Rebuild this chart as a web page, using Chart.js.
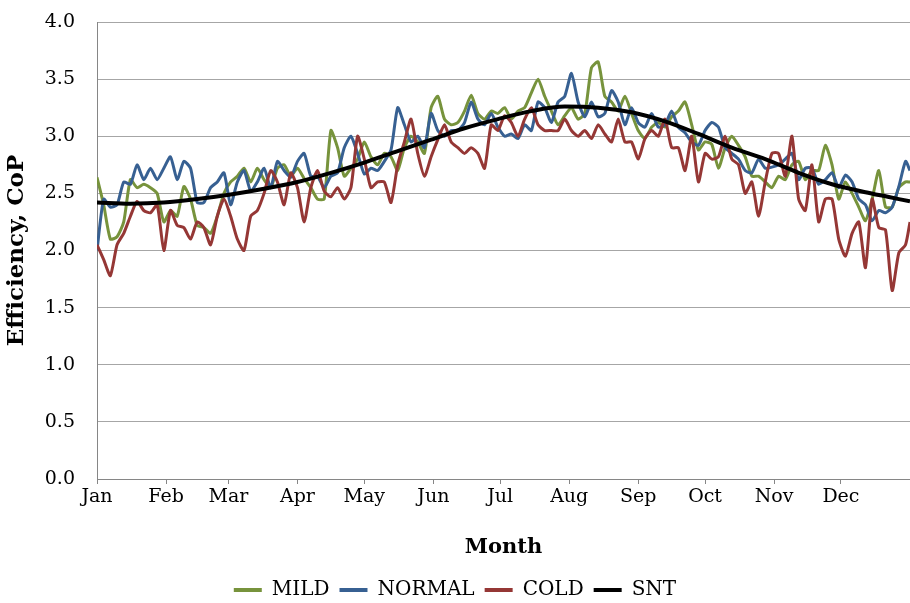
<!DOCTYPE html>
<html>
<head>
<meta charset="utf-8">
<script src="https://cdn.jsdelivr.net/npm/chart.js@4.4.1/dist/chart.umd.min.js"></script>
<style>
  html, body { margin: 0; padding: 0; background: #fff; }
  #wrap { width: 910px; height: 603px; }
</style>
</head>
<body>
<div id="wrap"><canvas id="chart"></canvas></div>
<script>
// day of year for each sample (read every ~3 days off the picture)
const days = [0,3,6,9,12,15,18,21,24,27,30,33,36,39,42,45,48,51,54,57,60,63,66,69,72,75,78,81,84,87,90,93,96,99,
  102,105,108,111,114,117,120,123,126,129,132,135,138,141,144,147,150,153,156,159,162,165,168,171,174,177,180,183,186,189,192,195,198,
  201,204,207,210,213,216,219,222,225,228,231,234,237,240,243,246,249,252,255,258,261,264,267,270,273,276,279,282,285,288,291,294,297,
  300,303,306,309,312,315,318,321,324,327,330,333,336,339,342,345,348,351,354,357,360,363,365];

const mild = [2.64,2.4,2.1,2.12,2.25,2.62,2.55,2.58,2.55,2.5,2.25,2.35,2.3,2.56,2.45,2.22,2.2,2.15,2.3,2.5,2.6,2.65,2.72,2.6,2.72,2.62,2.55,2.72,2.75,2.65,2.72,2.63,2.55,2.45,
  2.45,3.05,2.9,2.65,2.72,2.8,2.95,2.82,2.75,2.85,2.82,2.7,2.9,3.0,2.95,2.85,3.25,3.35,3.15,3.1,3.12,3.22,3.36,3.2,3.15,3.22,3.2,3.25,3.15,3.22,3.25,3.38,3.5,
  3.35,3.22,3.1,3.18,3.25,3.15,3.2,3.6,3.65,3.35,3.3,3.22,3.35,3.2,3.05,2.98,3.08,3.12,3.08,3.17,3.22,3.3,3.1,2.88,2.95,2.93,2.72,2.9,3.0,2.92,2.82,2.65,2.65,
  2.6,2.55,2.65,2.62,2.75,2.78,2.62,2.7,2.7,2.92,2.75,2.45,2.6,2.5,2.38,2.26,2.45,2.7,2.38,2.38,2.55,2.6,2.6];

const normal = [2.0,2.45,2.38,2.4,2.6,2.58,2.75,2.62,2.72,2.62,2.72,2.82,2.62,2.78,2.72,2.42,2.42,2.55,2.6,2.68,2.4,2.6,2.7,2.52,2.6,2.72,2.55,2.78,2.7,2.64,2.78,2.85,2.65,2.65,
  2.55,2.65,2.68,2.9,3.0,2.85,2.67,2.72,2.7,2.78,2.88,3.25,3.1,2.95,3.0,2.9,3.2,3.05,3.0,3.05,3.05,3.12,3.3,3.15,3.1,3.2,3.08,3.0,3.02,2.98,3.1,3.05,3.3,
  3.25,3.12,3.3,3.35,3.55,3.3,3.17,3.3,3.17,3.2,3.4,3.3,3.1,3.25,3.12,3.08,3.2,3.08,3.1,3.22,3.08,3.03,2.95,2.92,3.05,3.12,3.08,2.9,2.85,2.8,2.7,2.68,2.8,
  2.72,2.73,2.75,2.8,2.85,2.62,2.72,2.72,2.58,2.62,2.68,2.55,2.66,2.6,2.45,2.4,2.26,2.35,2.33,2.38,2.56,2.78,2.7];

const cold = [2.05,1.92,1.78,2.05,2.15,2.3,2.43,2.35,2.33,2.4,2.0,2.35,2.22,2.2,2.1,2.25,2.2,2.05,2.3,2.45,2.3,2.1,2.0,2.3,2.35,2.5,2.7,2.6,2.4,2.68,2.55,2.25,2.55,2.7,
  2.52,2.47,2.55,2.45,2.55,3.0,2.8,2.55,2.6,2.6,2.42,2.75,2.95,3.15,2.85,2.65,2.82,2.97,3.1,2.95,2.9,2.85,2.9,2.85,2.72,3.1,3.05,3.18,3.12,3.0,3.15,3.25,3.1,
  3.05,3.05,3.05,3.15,3.05,3.0,3.05,2.98,3.1,3.02,2.95,3.15,2.95,2.95,2.8,2.98,3.05,3.0,3.15,2.9,2.9,2.7,3.0,2.6,2.85,2.8,2.82,3.0,2.8,2.75,2.5,2.6,2.3,
  2.6,2.85,2.85,2.65,3.0,2.45,2.35,2.75,2.25,2.45,2.45,2.1,1.95,2.15,2.25,1.85,2.45,2.2,2.18,1.65,1.98,2.05,2.25];

// smooth SNT curve
const sntDays = [0,15,30,45,60,75,90,105,120,135,150,165,180,195,210,225,240,255,270,285,300,315,330,345,355,365];
const snt = [2.42,2.41,2.42,2.45,2.49,2.54,2.6,2.68,2.77,2.87,2.97,3.07,3.15,3.22,3.26,3.25,3.21,3.13,3.02,2.9,2.8,2.68,2.58,2.51,2.47,2.43];

const monthStarts = [0,31,59,90,120,151,181,212,243,273,304,334];
const monthNames = ['Jan','Feb','Mar','Apr','May','Jun','Jul','Aug','Sep','Oct','Nov','Dec'];

const FONT = 'DejaVu Serif';

function pts(xs, ys) {
  return ys.map((v, i) => ({ x: xs[i], y: v }));
}

new Chart(document.getElementById('chart'), {
  type: 'line',
  data: {
    datasets: [
      { label: 'MILD', data: pts(days, mild), borderColor: '#77933C', borderWidth: 3, order: 3 },
      { label: 'NORMAL', data: pts(days, normal), borderColor: '#376092', borderWidth: 3, order: 2 },
      { label: 'COLD', data: pts(days, cold), borderColor: '#953735', borderWidth: 3, order: 1 },
      { label: 'SNT', data: pts(sntDays, snt), borderColor: '#000000', borderWidth: 4, order: 0, cubicInterpolationMode: 'monotone' }
    ]
  },
  options: {
    responsive: true,
    maintainAspectRatio: false,
    animation: false,
    layout: { padding: { left: 0, right: 0, top: 22, bottom: -7 } },
    elements: {
      point: { radius: 0 },
      line: { tension: 0.2, fill: false }
    },
    plugins: {
      tooltip: { enabled: false },
      legend: {
        position: 'bottom',
        labels: {
          font: { family: FONT, size: 20 },
          color: '#000',
          boxWidth: 28,
          boxHeight: 4,
          padding: 10,
          sort: (a, b) => a.datasetIndex - b.datasetIndex,
          generateLabels: chart => chart.data.datasets.map((ds, i) => ({
            text: ds.label, fillStyle: ds.borderColor, strokeStyle: ds.borderColor,
            lineWidth: 0, datasetIndex: i, fontColor: '#000'
          }))
        }
      }
    },
    scales: {
      x: {
        type: 'linear',
        min: 0,
        max: 365,
        afterBuildTicks: axis => { axis.ticks = monthStarts.map(v => ({ value: v })); },
        afterFit: scale => { scale.height = 91; },
        ticks: {
          autoSkip: false,
          maxRotation: 0,
          padding: 2,
          color: '#000',
          font: { family: FONT, size: 19 },
          callback: v => monthNames[monthStarts.indexOf(v)]
        },
        grid: { drawOnChartArea: false, drawTicks: true, tickLength: 5, color: '#868686' },
        border: { color: '#868686', width: 1 },
        title: {
          display: true, text: 'Month', color: '#000',
          font: { family: FONT, size: 21, weight: 'bold' },
          padding: { top: 0, bottom: 10 }
        }
      },
      y: {
        min: 0,
        max: 4,
        afterFit: scale => { scale.width = 97; },
        ticks: {
          stepSize: 0.5,
          padding: 0,
          color: '#000',
          font: { family: FONT, size: 19 },
          callback: v => v.toFixed(1)
        },
        // the gap between labels and axis is an invisible tick mark
        grid: { color: '#A6A6A6', drawTicks: true, tickLength: 22, tickColor: 'rgba(0,0,0,0)' },
        border: { color: '#868686', width: 1 },
        title: {
          display: true, text: 'Efficiency, CoP', color: '#000',
          font: { family: FONT, size: 23, weight: 'bold' },
          padding: { top: 3, bottom: 0 }
        }
      }
    }
  }
});
</script>
</body>
</html>
